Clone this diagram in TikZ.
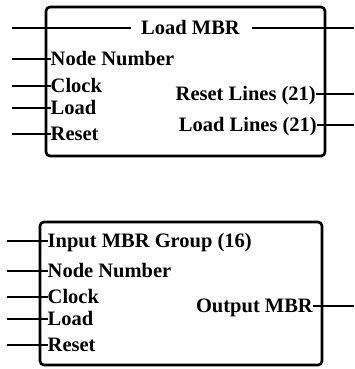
\documentclass[tikz,border=0pt]{standalone}
\usepackage{fontspec}
\setmainfont{Liberation Serif}
\begin{document}
\begin{tikzpicture}[x=1pt,y=-1pt,
  block/.style={draw, line width=2.6pt, rounded corners=4pt},
  wire/.style={line width=2pt},
  lbl/.style={inner sep=0pt, font=\fontsize{20.5}{23}\selectfont\bfseries,
              text height=13.2pt, text depth=0pt}]
\useasboundingbox (0,0) rectangle (354,369);

% ---------- upper block ----------
\node[block, minimum width=279pt, minimum height=149pt] (ublk) at (185.5,81.5) {};
\node[lbl] (lmbr) at (190.5,28) {Load MBR};
\coordinate (lmbrL) at (12,28);
\coordinate (lmbrR) at (354,28);
\draw[wire] (lmbrL) -- ([xshift=-10pt]lmbr.west);
\draw[wire] ([xshift=12pt]lmbr.east) -- (lmbrR);

\node[lbl, anchor=west] (unn) at (50.5,59) {Node Number};
\node[lbl, anchor=west] (uclk) at (50.5,86) {Clock};
\node[lbl, anchor=west] (uld) at (50.5,108) {Load};
\node[lbl, anchor=west] (urst) at (50.5,134) {Reset};
\foreach \n/\y in {unn/59, uclk/86, uld/108, urst/134}{
  \coordinate (\n-in) at (12,\y);
  \draw[wire] (\n-in) -- (\n.west);
}

\node[lbl, anchor=east] (url) at (316,94) {Reset Lines (21)};
\node[lbl, anchor=east] (ull) at (317,125) {Load Lines (21)};
\foreach \n/\y in {url/94, ull/125}{
  \coordinate (\n-out) at (354,\y);
  \draw[wire] (\n.east) -- (\n-out);
}

% ---------- lower block ----------
\node[block, minimum width=282pt, minimum height=143pt] (lblk) at (181,293.5) {};
\node[lbl, anchor=west] (limg) at (47.5,241) {Input MBR Group (16)};
\node[lbl, anchor=west] (lnn) at (47.5,271) {Node Number};
\node[lbl, anchor=west] (lclk) at (47.5,297) {Clock};
\node[lbl, anchor=west] (lld) at (47.5,319) {Load};
\node[lbl, anchor=west] (lrst) at (47.5,345) {Reset};
\foreach \n/\y in {limg/241, lnn/271, lclk/297, lld/319, lrst/345}{
  \coordinate (\n-in) at (7,\y);
  \draw[wire] (\n-in) -- (\n.west);
}

\node[lbl, anchor=east] (lout) at (313,306) {Output MBR};
\coordinate (lout-out) at (354,306);
\draw[wire] (lout.east) -- (lout-out);
\end{tikzpicture}
\end{document}
